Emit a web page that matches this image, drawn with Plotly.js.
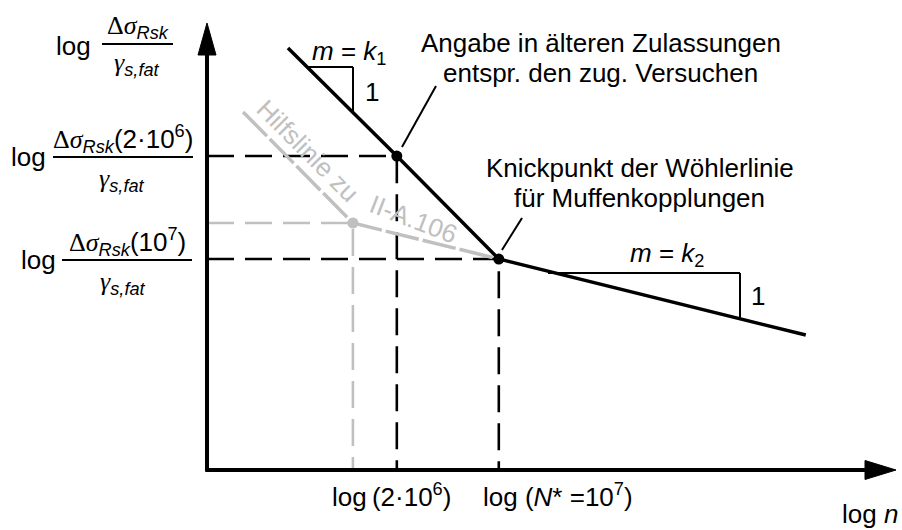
<!DOCTYPE html>
<html>
<head>
<meta charset="utf-8">
<script src="https://cdn.plot.ly/plotly-3.0.1.min.js"></script>
<style>
  html, body { margin: 0; padding: 0; background: #ffffff; }
  #chart { width: 902px; height: 530px; }
</style>
</head>
<body>
<div id="chart"></div>
<script>
// Schematic S-N (Wöhler) diagram in log-log space: x = log n, y = log Δσ (schematic units)

// Wöhler line for coupler sleeves: start, 2·10^6, knee point N* = 10^7, end
const wohlerLogN = [5.555, 6.301, 7.0, 9.104];
const wohlerLogS = [2.892, 2.152, 1.446, 0.925];

// auxiliary line (Hilfslinie zu II-A.106): start, 10^6, knee point
const helperLogN = [5.247, 6.0, 7.0];
const helperLogS = [2.454, 1.693, 1.446];

// marked points with their guide lines to both axes
const markLogN = [6.301, 7.0];
const markLogS = [2.152, 1.446];
const helperMarkLogN = [6.0];
const helperMarkLogS = [1.693];

// axis origin
const originLogN = 5.0;
const originLogS = 0.0;

// ---- pixel helpers for decoration placement (plot area fills the page) ----
const W = 902, H = 530;
const S = 145.9;            // pixels per log unit on both axes
const PX0 = 207, PY0 = 470; // pixel position of the axis origin
function X(px) { return originLogN + (px - PX0) / S; }
function Y(py) { return originLogS + (PY0 - py) / S; }

const BLACK = '#000000';
const GRAY = '#c0c0c0';
const SANS = 'Liberation Sans, Arial, sans-serif';
const FS = 26;

// guide lines: horizontal from the y axis to the point, then down to the x axis
function guides(xs, ys) {
  const gx = [], gy = [];
  for (let i = 0; i < xs.length; i++) {
    gx.push(originLogN, xs[i], xs[i], null);
    gy.push(ys[i], ys[i], originLogS, null);
  }
  return { x: gx, y: gy };
}
const g1 = guides(markLogN, markLogS);
const g2 = guides(helperMarkLogN, helperMarkLogS);

const traces = [
  { x: g2.x, y: g2.y, mode: 'lines', line: { color: GRAY, width: 2.6, dash: '27px,11px' }, hoverinfo: 'skip' },
  { x: g1.x, y: g1.y, mode: 'lines', line: { color: BLACK, width: 2.6, dash: '27px,11px' }, hoverinfo: 'skip' },
  { x: helperLogN, y: helperLogS, mode: 'lines', line: { color: GRAY, width: 3.5, dash: '34px,4px' }, hoverinfo: 'skip' },
  { x: wohlerLogN, y: wohlerLogS, mode: 'lines', line: { color: BLACK, width: 3.5 }, hoverinfo: 'skip' },
  { x: helperMarkLogN, y: helperMarkLogS, mode: 'markers', marker: { color: GRAY, size: 11 }, hoverinfo: 'skip' },
  { x: markLogN, y: markLogS, mode: 'markers', marker: { color: BLACK, size: 11 }, hoverinfo: 'skip' }
];

function seg(x0, y0, x1, y1, w, col) {
  return { type: 'line', xref: 'x', yref: 'y', x0: X(x0), y0: Y(y0), x1: X(x1), y1: Y(y1),
           line: { color: col || BLACK, width: w } };
}
function tri(pts) {
  const d = pts.map((p, i) => (i ? 'L' : 'M') + X(p[0]) + ',' + Y(p[1])).join(' ') + ' Z';
  return { type: 'path', xref: 'x', yref: 'y', path: d, fillcolor: BLACK, line: { color: BLACK, width: 1 } };
}

const shapes = [
  // axes with arrowheads
  seg(PX0, PY0 + 1.5, PX0, 50, 4),
  tri([[PX0, 23], [PX0 - 9, 55], [PX0 + 9, 55]]),
  seg(PX0 - 1.5, PY0, 868, PY0, 4),
  tri([[896, PY0], [865, PY0 - 9.5], [865, PY0 + 9.5]]),
  // slope triangles
  seg(308, 67, 353, 67, 2), seg(353, 67, 353, 113, 2),
  seg(548, 273, 740, 273, 2), seg(740, 273, 740, 320, 2),
  // leader lines
  seg(402, 147, 436, 86, 2),
  seg(502, 250, 522, 218, 2),
  // fraction bars of the y labels
  seg(102, 44, 173, 44, 1.8),
  seg(53, 157, 193, 157, 1.8),
  seg(62, 260, 192, 260, 1.8)
];

function txt(text, px, py, opts) {
  return Object.assign({
    text: text, xref: 'x', yref: 'y', x: X(px), y: Y(py), showarrow: false,
    xanchor: 'center', yanchor: 'middle', font: { family: SANS, size: FS, color: BLACK }
  }, opts || {});
}
const DS = '<span style="font-family:\'Liberation Serif\',serif">Δ<i>σ</i></span><sub><i>Rsk</i></sub>';
const GAM = '<span style="font-family:\'Liberation Serif\',serif"><i>γ</i></span><sub><i>s,fat</i></sub>';

const annotations = [
  // y-axis labels
  txt('log', 73, 46),
  txt(DS, 138, 27),
  txt(GAM, 137, 64),
  txt('log', 28, 157),
  txt(DS + '(2·10<sup>6</sup>)', 123, 139),
  txt(GAM, 122, 180),
  txt('log', 38, 260),
  txt(DS + '(10<sup>7</sup>)', 127, 242),
  txt(GAM, 123, 283),
  // x-axis labels
  txt('log\u2009(2·10<sup>6</sup>)', 330, 495, { xanchor: 'left' }),
  txt('log (<i>N</i>* =10<sup>7</sup>)', 481, 495, { xanchor: 'left' }),
  txt('log <i>n</i>', 840, 514, { xanchor: 'left' }),
  // slopes
  txt('<i>m</i> = <i>k</i><sub>1</sub>', 310, 52, { xanchor: 'left' }),
  txt('1', 372, 92),
  txt('<i>m</i> = <i>k</i><sub>2</sub>', 628, 254, { xanchor: 'left' }),
  txt('1', 758, 296),
  // callouts
  txt('Angabe in älteren Zulassungen', 601, 43),
  txt('entspr. den zug. Versuchen', 600, 73),
  txt('Knickpunkt der Wöhlerlinie', 640, 168),
  txt('für Muffenkopplungen', 639, 198),
  // auxiliary line label
  txt('Hilfslinie zu', 308, 151, { textangle: 45, font: { family: SANS, size: 26, color: GRAY } }),
  txt('II-A.106', 413, 219, { textangle: 21, font: { family: SANS, size: 26, color: GRAY } })
];

const layout = {
  width: W, height: H,
  margin: { l: 0, r: 0, t: 0, b: 0, pad: 0 },
  paper_bgcolor: '#ffffff', plot_bgcolor: '#ffffff',
  showlegend: false,
  xaxis: { range: [X(0), X(W)], visible: false, fixedrange: true },
  yaxis: { range: [Y(H), Y(0)], visible: false, fixedrange: true },
  shapes: shapes,
  annotations: annotations
};

Plotly.newPlot('chart', traces, layout, { staticPlot: true, displayModeBar: false });
</script>
</body>
</html>
